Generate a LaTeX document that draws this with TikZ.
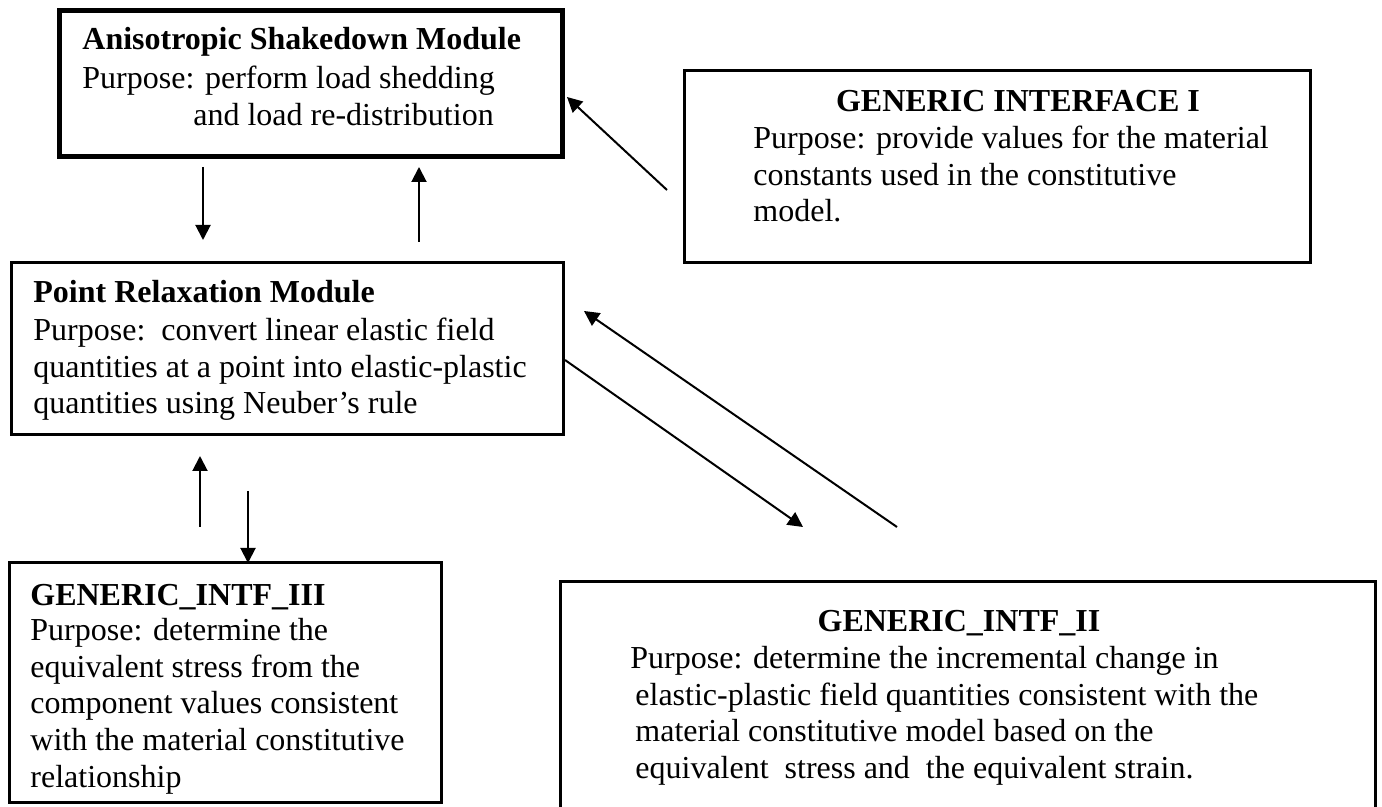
\documentclass[tikz,border=0pt]{standalone}
\usepackage{fontspec}
\setmainfont{Liberation Serif}
\usetikzlibrary{arrows.meta,fit}
\begin{document}
\begin{tikzpicture}[x=0.5pt,y=-0.5pt,
  modbox/.style={draw, line width=1.5pt, inner sep=0pt},
  mainbox/.style={draw, line width=2.5pt, inner sep=0pt},
  ttl/.style={inner sep=0pt, font=\fontsize{16}{18.4}\selectfont\bfseries},
  body/.style={inner sep=0pt, align=left, anchor=north west,
               font=\fontsize{16}{18.4}\selectfont},
  link/.style={line width=1pt, -{Triangle[length=7.5pt,width=7.5pt]}}]
\useasboundingbox (0,0) rectangle (1382,807);

% module boxes
\node[mainbox, fit={(59.5,10.5) (562.5,156.5)}] (shake) {};
\node[modbox, fit={(684,71) (1310,262.5)}] (gi1) {};
\node[modbox, fit={(11,263) (563.5,435)}] (relax) {};
\node[modbox, fit={(9,563) (441.5,802)}] (gi3) {};
\node[modbox, fit={(560,581) (1375,815)}] (gi2) {};

% box texts
\node[ttl, anchor=base west] (shake-t) at (82,50) {Anisotropic Shakedown Module};
\node[body] (shake-b) at (82,62.2) {\strut Purpose: perform load shedding\\
  \hspace*{55.5pt}and load re-distribution};

\node[ttl, anchor=base] (gi1-t) at (1018,112) {GENERIC INTERFACE I};
\node[body] (gi1-b) at (753,122.2) {\strut Purpose: provide values for the material\\
  constants used in the constitutive\\ model.};

\node[ttl, anchor=base west] (relax-t) at (33,303) {Point Relaxation Module};
\node[body] (relax-b) at (33,314.2) {\strut Purpose:\ \ convert linear elastic field\\
  quantities at a point into elastic-plastic\\ quantities using Neuber's rule};

\node[ttl, anchor=base west] (gi3-t) at (30,605) {GENERIC\_INTF\_III};
\node[body] (gi3-b) at (30,614.2) {\strut Purpose: determine the\\
  equivalent stress from the\\ component values consistent\\
  with the material constitutive\\ relationship};

\node[ttl, anchor=base] (gi2-t) at (959,632) {GENERIC\_INTF\_II};
\node[body] (gi2-b) at (630,642.2) {\strut Purpose: determine the incremental change in\\
  \hspace*{2.5pt}elastic-plastic field quantities consistent with the\\
  \hspace*{2.5pt}material constitutive model based on the\\
  \hspace*{2.5pt}equivalent\ \ stress and\ \ the equivalent strain.};

% connector end points
\coordinate (sd-a) at (203,167);  \coordinate (sd-b) at (203,240);
\coordinate (su-a) at (419,242);  \coordinate (su-b) at (419,167);
\coordinate (g1-a) at (667,190);  \coordinate (g1-b) at (567,97);
\coordinate (r2-a) at (565,360);  \coordinate (r2-b) at (803,527);
\coordinate (g2-a) at (897,527);  \coordinate (g2-b) at (584,311);
\coordinate (g3-a) at (200,527);  \coordinate (g3-b) at (200,456);
\coordinate (r3-a) at (248,491);  \coordinate (r3-b) at (248,563);

% connectors
\draw[link] (sd-a) -- (sd-b);
\draw[link] (su-a) -- (su-b);
\draw[link] (g1-a) -- (g1-b);
\draw[link] (r2-a) -- (r2-b);
\draw[link] (g2-a) -- (g2-b);
\draw[link] (g3-a) -- (g3-b);
\draw[link] (r3-a) -- (r3-b);
\end{tikzpicture}
\end{document}
